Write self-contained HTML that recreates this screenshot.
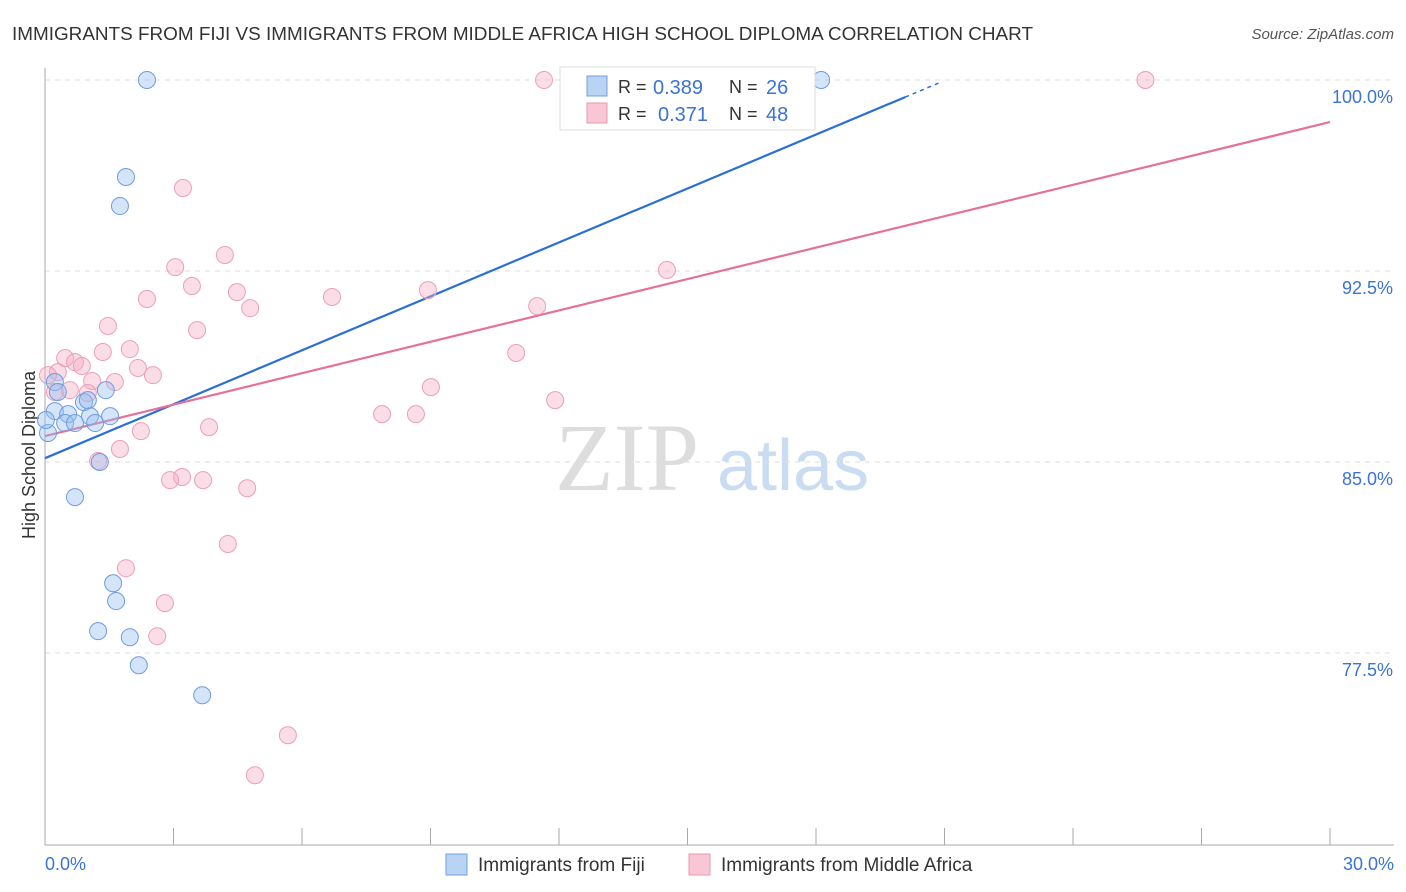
<!DOCTYPE html>
<html><head><meta charset="utf-8"><style>
body{margin:0;background:#fff;font-family:"Liberation Sans",sans-serif}
svg{display:block}
</style></head><body>
<svg id="chart" width="1406" height="892">
<text x="12" y="40" font-size="18" fill="#333" textLength="1021" lengthAdjust="spacingAndGlyphs">IMMIGRANTS FROM FIJI VS IMMIGRANTS FROM MIDDLE AFRICA HIGH SCHOOL DIPLOMA CORRELATION CHART</text>
<text x="1394" y="39" font-size="15" fill="#555" text-anchor="end" font-style="italic">Source: ZipAtlas.com</text>
<text x="35" y="455" font-size="18" fill="#333" text-anchor="middle" transform="rotate(-90 35 455)">High School Diploma</text>
<g>
<text x="555" y="490" font-size="96" font-family="Liberation Serif" fill="#ddd">ZIP</text>
<text x="717" y="490" font-size="72" fill="#c9dcf2">atlas</text>
</g>
<g id="grid"></g><g id="axes"></g><g id="lines"></g><g id="pts"></g>
<g>
<rect x="560" y="67" width="255" height="63" fill="#fff" stroke="#ddd"/>
<rect x="587" y="76" width="20" height="20" fill="#b9d3f5" stroke="#6fa0e0"/>
<rect x="587" y="103" width="20" height="20" fill="#f8c6d5" stroke="#e99ab3"/>
<text x="618" y="93" font-size="18" fill="#333">R =</text>
<text x="653" y="94" font-size="20" fill="#3b73d4">0.389</text>
<text x="729" y="93" font-size="18" fill="#333">N =</text>
<text x="766" y="94" font-size="20" fill="#3b73d4">26</text>
<text x="618" y="120" font-size="18" fill="#333">R =</text>
<text x="658" y="121" font-size="20" fill="#3b73d4">0.371</text>
<text x="729" y="120" font-size="18" fill="#333">N =</text>
<text x="766" y="121" font-size="20" fill="#3b73d4">48</text>
</g>
<g>
<rect x="446" y="854" width="21" height="21" fill="#b9d3f5" stroke="#6fa0e0"/>
<text x="478" y="871" font-size="19" fill="#333">Immigrants from Fiji</text>
<rect x="689" y="854" width="21" height="21" fill="#f8c6d5" stroke="#e99ab3"/>
<text x="721" y="871" font-size="19" fill="#333">Immigrants from Middle Africa</text>
</g>
</svg>
<script>
const yTicks=[100,92.5,85,77.5];
const yTickLabels=["100.0%","92.5%","85.0%","77.5%"];
const xTickLabels=["0.0%","30.0%"];
const fijiX=[2.38,1.89,1.75,0.07,0.23,0.54,0.47,0.70,0.91,1.05,1.17,1.52,1.42,0.23,0.30,1.28,0.70,1.59,1.66,1.24,1.98,2.19,3.67,18.12,1.00,0.02];
const fijiY=[100,96.19,95.05,86.14,87.0,86.88,86.53,86.53,87.35,86.8,86.53,86.8,87.82,88.14,87.75,85.0,83.62,80.24,79.54,78.36,78.12,77.02,75.84,100,87.43,86.65];
const afrX=[11.65,25.69,3.22,4.20,3.04,3.43,4.48,2.38,4.79,6.70,8.94,11.49,14.52,1.47,3.55,1.98,1.35,0.47,0.70,0.86,2.17,2.52,0.30,0.07,1.10,1.63,0.58,1.00,0.23,9.01,11.00,11.91,7.87,8.66,2.24,3.83,1.75,1.24,3.20,2.92,3.69,4.72,4.27,1.89,2.80,2.62,5.67,4.90];
const afrY=[100,100,95.76,93.13,92.65,91.91,91.67,91.4,91.04,91.48,91.75,91.12,92.54,90.34,90.18,89.43,89.32,89.08,88.92,88.77,88.69,88.41,88.53,88.41,88.18,88.14,87.82,87.71,87.75,87.94,89.28,87.43,86.88,86.88,86.21,86.37,85.51,85.04,84.41,84.29,84.29,83.97,81.78,80.83,79.46,78.16,74.27,72.7];
const fijiTrend=[85.15,0.706];
const afrTrend=[86.02,0.411];
const X=v=>45+v*(1285/30), Y=v=>80+(100-v)*(191/7.5);
const NS='http://www.w3.org/2000/svg';
function mk(t,a,p){const e=document.createElementNS(NS,t);for(const k in a)e.setAttribute(k,a[k]);document.getElementById(p).appendChild(e);return e;}
yTicks.forEach((t,i)=>{
 const g=mk('line',{x1:45,x2:1394,y1:Y(t),y2:Y(t),stroke:'#ddd','stroke-dasharray':'5,5'},'grid');
 
 
 const l=mk('text',{x:1393,y:Y(t)+23,'font-size':18,fill:'#3b73d4','text-anchor':'end'},'axes');
 l.textContent=yTickLabels[i];
 
 
});
mk('line',{x1:45,x2:45,y1:68,y2:845,stroke:'#aaa'},'axes');
mk('line',{x1:45,x2:1394,y1:845,y2:845,stroke:'#aaa'},'axes');
for(let i=0;i<=10;i++){const t=mk('line',{x1:X(i*3),x2:X(i*3),y1:828,y2:845,stroke:'#aaa'},'axes');
 
 }
[[0,'start',45],[30,'end',1394]].forEach((d,i)=>{const l=mk('text',{x:d[2],y:870,'font-size':18,fill:'#3b73d4','text-anchor':d[1]},'axes');l.textContent=xTickLabels[i];
 
 });
const fEnd=(100-fijiTrend[0])/fijiTrend[1];
const s1=fEnd-0.95, s2=fEnd-0.1;
let ln=mk('line',{x1:X(0),y1:Y(fijiTrend[0]),x2:X(s1),y2:Y(fijiTrend[0]+fijiTrend[1]*s1),stroke:'#2a6fd6','stroke-width':2.2},'lines');


ln=mk('line',{x1:X(s1),y1:Y(fijiTrend[0]+fijiTrend[1]*s1),x2:X(s2),y2:Y(fijiTrend[0]+fijiTrend[1]*s2),stroke:'#2a6fd6','stroke-width':1.5,'stroke-dasharray':'4,4'},'lines');


ln=mk('line',{x1:X(0),y1:Y(afrTrend[0]),x2:X(30),y2:Y(afrTrend[0]+afrTrend[1]*30),stroke:'#e5709a','stroke-width':2.2},'lines');


afrX.forEach((x,i)=>{const c=mk('circle',{cx:X(x),cy:Y(afrY[i]),r:8.5,fill:'rgba(244,170,195,0.4)',stroke:'#eba0b8','stroke-width':1},'pts');
 
 });
fijiX.forEach((x,i)=>{const c=mk('circle',{cx:X(x),cy:Y(fijiY[i]),r:8.5,fill:'rgba(150,190,240,0.4)',stroke:'#6d9de0','stroke-width':1},'pts');
 
 });
</script>
</body></html>
